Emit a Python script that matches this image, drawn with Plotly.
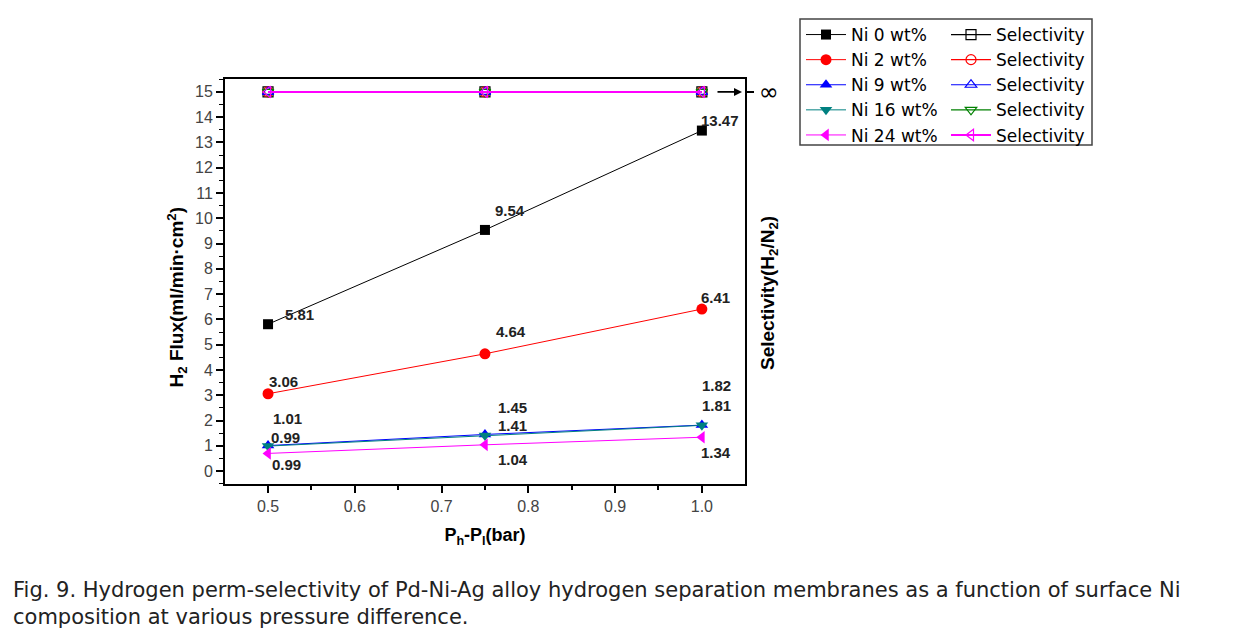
import plotly.graph_objects as go

# ---- data ----
pressure = [0.5, 0.75, 1.0]
series_names = ["Ni 0 wt%", "Ni 2 wt%", "Ni 9 wt%", "Ni 16 wt%", "Ni 24 wt%"]
flux_ni0 = [5.81, 9.54, 13.47]
flux_ni2 = [3.06, 4.64, 6.41]
flux_ni9 = [1.01, 1.45, 1.82]
flux_ni16 = [0.99, 1.41, 1.81]
flux_ni24 = [0.70, 1.04, 1.34]
labels_ni0 = ["5.81", "9.54", "13.47"]
labels_ni2 = ["3.06", "4.64", "6.41"]
labels_ni9 = ["1.01", "1.45", "1.82"]
labels_ni16 = ["0.99", "1.41", "1.81"]
labels_ni24 = ["0.99", "1.04", "1.34"]
# selectivity is infinite -> drawn at the top of the scale (15)
selectivity = [15, 15, 15]
y_ticks = list(range(0, 16))
x_ticks = [0.5, 0.6, 0.7, 0.8, 0.9, 1.0]

# ---- styles ----
colors = ["#000000", "#ff0000", "#0000ff", "#008080", "#ff00ff"]
sel_colors = ["#000000", "#ff0000", "#0000ff", "#008000", "#ff00ff"]
symbols = ["square", "circle", "triangle-up", "triangle-down", "triangle-left"]
sizes = [10, 11, 11, 11, 11]
# label offsets in pixels (dx, dy) relative to the point
label_offsets = [
    [(31, -10), (25, -19), (18, -10)],
    [(15, -12), (26, -22), (14, -12)],
    [(19, -27), (28, -27), (15, -40)],
    [(17, -9), (28, -10), (15, -20)],
    [(18, 11), (28, 15), (14, 15)],
]

fluxes = [flux_ni0, flux_ni2, flux_ni9, flux_ni16, flux_ni24]
labels = [labels_ni0, labels_ni2, labels_ni9, labels_ni16, labels_ni24]

FONT = "Liberation Sans, Arial"
WIDE = "DejaVu Sans"

fig = go.Figure()

# selectivity traces (open markers) -> legend2
for i in range(5):
    fig.add_trace(go.Scatter(
        x=pressure, y=selectivity, name="Selectivity", legend="legend2",
        mode="lines+markers",
        line=dict(color=sel_colors[i], width=1.2 if i < 4 else 2),
        marker=dict(symbol=symbols[i] + "-open", size=10, color=sel_colors[i],
                    line=dict(width=1.2, color=sel_colors[i])),
    ))

# flux traces -> legend
for i in range(5):
    fig.add_trace(go.Scatter(
        x=pressure, y=fluxes[i], name=series_names[i], legend="legend",
        mode="lines+markers",
        line=dict(color=colors[i], width=1),
        marker=dict(symbol=symbols[i], size=sizes[i], color=colors[i]),
    ))

annotations = []
for i in range(5):
    for j in range(3):
        dx, dy = label_offsets[i][j]
        annotations.append(dict(
            x=pressure[j], y=fluxes[i][j], xref="x", yref="y",
            text="<b>" + labels[i][j] + "</b>", showarrow=False,
            xshift=dx, yshift=-dy,
            font=dict(family=FONT, size=15, color="#222222"),
        ))

# arrow pointing to the infinity tick
annotations.append(dict(
    x=(742 - 225) / 520, y=15, xref="paper", yref="y", ax=-26, ay=0,
    text="", showarrow=True, arrowhead=2, arrowsize=1, arrowwidth=1.6,
    arrowcolor="black",
))
# left axis title
annotations.append(dict(
    x=(161 - 225) / 520, y=(484 - 297) / 405, xref="paper", yref="paper",
    text="<b>H<sub>2</sub> Flux(ml/min·cm<sup>2</sup>)</b>", textangle=-90,
    showarrow=False, font=dict(family=FONT, size=19, color="black"),
))
# right axis title
annotations.append(dict(
    x=(783 - 225) / 520, y=(484 - 293) / 405, xref="paper", yref="paper",
    text="<b>Selectivity(H<sub>2</sub>/N<sub>2</sub>)</b>", textangle=-90,
    showarrow=False, font=dict(family=FONT, size=19, color="black"),
))
# caption
annotations.append(dict(
    x=(11 - 225) / 520, y=(484 - 576) / 405, xref="paper", yref="paper",
    xanchor="left", yanchor="top", align="left", showarrow=False,
    text=("Fig. 9. Hydrogen perm-selectivity of Pd-Ni-Ag alloy hydrogen separation membranes as a function of surface Ni"
          "<br>composition at various pressure difference."),
    font=dict(family=WIDE, size=21, color="#222222"),
))

fig.update_layout(
    width=1245, height=639,
    margin=dict(l=225, r=500, t=79, b=155),
    paper_bgcolor="white", plot_bgcolor="white",
    showlegend=True,
    annotations=annotations,
    legend=dict(x=(801 - 225) / 520, y=(484 - 17) / 405, xanchor="left", yanchor="top",
                bgcolor="rgba(0,0,0,0)", font=dict(family=WIDE, size=17, color="black"),
                tracegroupgap=0, itemwidth=40),
    legend2=dict(x=(946 - 225) / 520, y=(484 - 17) / 405, xanchor="left", yanchor="top",
                 bgcolor="rgba(0,0,0,0)", font=dict(family=WIDE, size=17, color="black"),
                 tracegroupgap=0, itemwidth=40),
    shapes=[dict(type="rect", xref="paper", yref="paper",
                 x0=(800 - 225) / 520, x1=(1092 - 225) / 520,
                 y0=(484 - 145) / 405, y1=(484 - 19) / 405,
                 line=dict(color="#444444", width=1.5))],
    xaxis=dict(
        range=[0.4504, 1.0497], tickvals=x_ticks, ticktext=[f"{v:.1f}" for v in x_ticks],
        ticks="outside", ticklen=7, tickwidth=1.5, tickcolor="black",
        minor=dict(dtick=0.05, tick0=0.45, ticks="outside", ticklen=4, tickwidth=1.5, tickcolor="black"),
        showline=True, linewidth=2, linecolor="black", mirror=True,
        showgrid=False, zeroline=False,
        tickfont=dict(family=FONT, size=16, color="#444444"),
        title=dict(text="<b>P<sub>h</sub>-P<sub>l</sub>(bar)</b>", standoff=14,
                   font=dict(family=FONT, size=18, color="black")),
    ),
    yaxis=dict(
        range=[-0.51, 15.51], tickvals=y_ticks,
        ticks="outside", ticklen=7, tickwidth=1.5, tickcolor="black",
        minor=dict(dtick=0.5, tick0=0, ticks="outside", ticklen=4, tickwidth=1.2, tickcolor="black"),
        showline=True, linewidth=2, linecolor="black", mirror=True,
        showgrid=False, zeroline=False,
        tickfont=dict(family=FONT, size=16, color="#444444"),
    ),
    yaxis2=dict(
        overlaying="y", side="right", range=[-0.51, 15.51],
        tickvals=[15], ticktext=["∞"], ticks="outside", ticklen=8, tickwidth=1.5, tickcolor="black",
        showgrid=False, zeroline=False, showline=False,
        tickfont=dict(family="DejaVu Sans", size=24, color="black"),
    ),
)

# invisible trace to activate yaxis2
fig.add_trace(go.Scatter(x=[pressure[0]], y=[selectivity[0]], yaxis="y2", mode="markers",
                         marker=dict(opacity=0), showlegend=False, hoverinfo="skip"))

fig.write_html("out.html", config={"displayModeBar": False},
               post_script="document.body.style.margin='0';")
